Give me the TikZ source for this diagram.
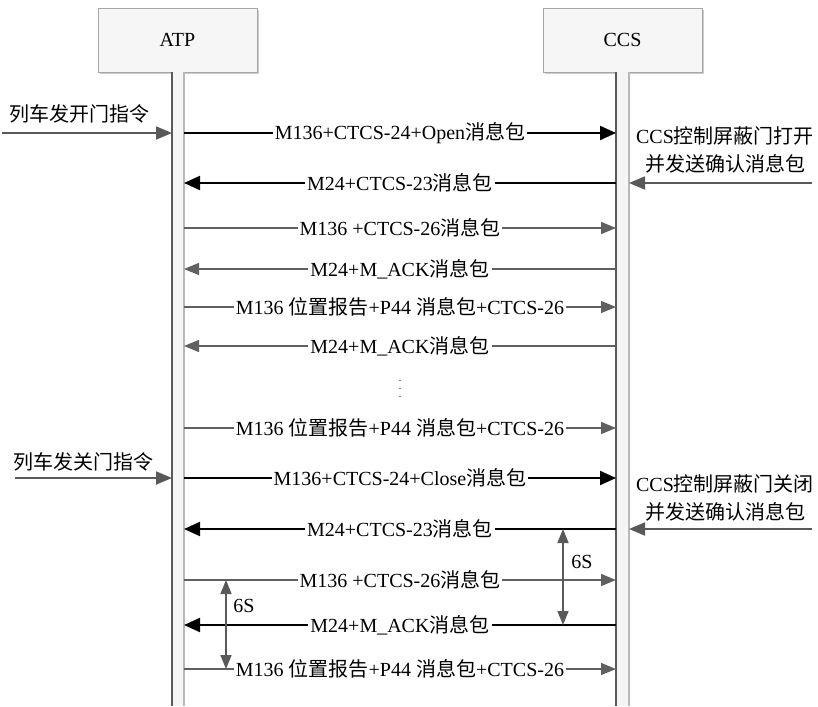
\documentclass[tikz,border=0pt]{standalone}
\usepackage{fontspec}
\setmainfont{Liberation Serif}
\newfontfamily\cjk{Noto Sans CJK SC}
\newcommand{\zh}[1]{{\cjk #1}}
\usetikzlibrary{arrows.meta,shadows}

\begin{document}
\begin{tikzpicture}[x=0.5pt,y=-0.5pt,
  obj/.style    ={draw=gray!70, fill=gray!7, minimum width=79.5pt, minimum height=32pt,
                  drop shadow={shadow xshift=1pt, shadow yshift=-1pt, fill=gray!40, opacity=1}},
  life/.style   ={fill=gray!8},
  boldmsg/.style={draw=black, line width=1.1pt, -{Triangle[length=8pt,width=7pt]}},
  msg/.style    ={draw=gray!75!black, line width=0.7pt, -{Triangle[length=7.5pt,width=6pt]}},
  ext/.style    ={draw=gray!70!black, line width=0.9pt, -{Triangle[length=8pt,width=6.5pt]}},
  gap/.style    ={draw=gray!70!black, line width=0.8pt,
                  {Triangle[length=7pt,width=5.5pt]}-{Triangle[length=7pt,width=5.5pt]}},
  lbl/.style    ={fill=white, inner sep=1pt}]

  \useasboundingbox (0,0) rectangle (818,706);

  % ---------------- objects ----------------
  \node[obj] (atp) at (177.5,40) {ATP};
  \node[obj] (ccs) at (622.5,40) {CCS};

  % ---------------- lifelines ----------------
  \fill[life] (172,72) rectangle (184,706);
  \draw[gray!70!black, line width=0.6pt] (172,72) -- (172,706);
  \draw[gray!55, line width=0.9pt] (184,72) -- (184,706);
  \fill[life] (616,72) rectangle (629,706);
  \draw[gray!70!black, line width=0.6pt] (616,72) -- (616,706);
  \draw[gray!55, line width=0.9pt] (629,72) -- (629,706);

  % ---------------- message end points ----------------
  \foreach \y [count=\i] in {133,183,228,269,307,346,428,478,529,580,625,669}{
    \coordinate (a\i) at (184,\y);
    \coordinate (c\i) at (616,\y);
  }

  % ---------------- door opening ----------------
  \draw[boldmsg] (a1) -- node[lbl]{M136+CTCS-24+Open\zh{消息包}} (c1);
  \draw[boldmsg] (c2) -- node[lbl]{M24+CTCS-23\zh{消息包}} (a2);
  \draw[msg] (a3) -- node[lbl]{M136 +CTCS-26\zh{消息包}} (c3);
  \draw[msg] (c4) -- node[lbl]{M24+M\_ACK\zh{消息包}} (a4);
  \draw[msg] (a5) -- node[lbl]{M136 \zh{位置报告}+P44 \zh{消息包}+CTCS-26} (c5);
  \draw[msg] (c6) -- node[lbl]{M24+M\_ACK\zh{消息包}} (a6);
  \node[font=\tiny] (dots) at (400,383) {$\vdots$};
  \draw[msg] (a7) -- node[lbl]{M136 \zh{位置报告}+P44 \zh{消息包}+CTCS-26} (c7);

  % ---------------- door closing ----------------
  \draw[boldmsg] (a8) -- node[lbl]{M136+CTCS-24+Close\zh{消息包}} (c8);
  \draw[boldmsg] (c9) -- node[lbl]{M24+CTCS-23\zh{消息包}} (a9);
  \draw[msg] (a10) -- node[lbl]{M136 +CTCS-26\zh{消息包}} (c10);
  \draw[boldmsg] (c11) -- node[lbl]{M24+M\_ACK\zh{消息包}} (a11);
  \draw[msg] (a12) -- node[lbl]{M136 \zh{位置报告}+P44 \zh{消息包}+CTCS-26} (c12);

  % ---------------- train commands (left) ----------------
  \coordinate (trainopen) at (2,133);   \coordinate (atpin1) at (172,133);
  \draw[ext] (trainopen) -- (atpin1);
  \node (cmdopen) at (80,114) {\zh{列车发开门指令}};
  \coordinate (trainclose) at (15,478); \coordinate (atpin2) at (172,478);
  \draw[ext] (trainclose) -- (atpin2);
  \node (cmdclose) at (83,462) {\zh{列车发关门指令}};

  % ---------------- door feedback (right) ----------------
  \coordinate (dooropen) at (812,183);  \coordinate (ccsin1) at (629,183);
  \draw[ext] (dooropen) -- (ccsin1);
  \node[align=center] (fbopen) at (725,150)
    {CCS\zh{控制屏蔽门打开}\\[2pt]\zh{并发送确认消息包}};
  \coordinate (doorclose) at (812,529); \coordinate (ccsin2) at (629,529);
  \draw[ext] (doorclose) -- (ccsin2);
  \node[align=center] (fbclose) at (725,498)
    {CCS\zh{控制屏蔽门关闭}\\[2pt]\zh{并发送确认消息包}};

  % ---------------- 6S timeouts ----------------
  \coordinate (t1) at (226,580); \coordinate (t2) at (226,669);
  \draw[gap] (t1) -- (t2);
  \node[lbl] (six1) at (244,606) {6S};
  \coordinate (t3) at (563,529); \coordinate (t4) at (563,625);
  \draw[gap] (t3) -- (t4);
  \node[lbl] (six2) at (582,562) {6S};
\end{tikzpicture}
\end{document}
